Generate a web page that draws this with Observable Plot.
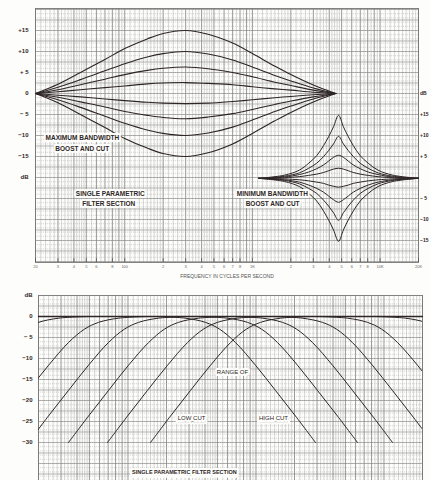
<!DOCTYPE html>
<html><head><meta charset="utf-8">
<script src="https://cdn.jsdelivr.net/npm/d3@7"></script>
<script src="https://cdn.jsdelivr.net/npm/@observablehq/plot@0.6"></script>
<style>
html,body{margin:0;padding:0;background:#fdfdfb;width:430px;height:480px;overflow:hidden}
#chart svg{display:block}
</style></head><body><div id="chart"></div>
<script>
// ---------- DATA ----------
// Top panel, maximum bandwidth boost & cut (dB vs Hz)
const maxFreq = [20,30,45,70,100,150,200,300,450,700,1000,1500,2000,3000,4500];
const maxBoost15 = [0,2.2,5.0,8.1,10.7,13.0,14.3,15,14.1,12.0,9.5,6.5,4.5,2.0,0];
const maxBoost10 = [0,1.5,3.3,5.4,7.1,8.7,9.5,10,9.4,8.0,6.3,4.3,3.0,1.3,0];
const maxBoost6  = [0,0.9,2.1,3.4,4.5,5.5,6.0,6.3,5.9,5.0,4.0,2.7,1.9,0.8,0];
const maxBoost3  = [0,0.4,0.9,1.4,1.8,2.3,2.5,2.6,2.4,2.1,1.6,1.1,0.8,0.3,0];
const maxCut2    = [0,-0.4,-0.8,-1.3,-1.7,-2.1,-2.3,-2.4,-2.3,-1.9,-1.5,-1.0,-0.7,-0.3,0];
const maxCut6    = [0,-0.9,-2.0,-3.2,-4.3,-5.2,-5.7,-6,-5.6,-4.8,-3.8,-2.6,-1.8,-0.8,0];
const maxCut10   = [0,-1.5,-3.3,-5.4,-7.1,-8.7,-9.5,-10,-9.4,-8.0,-6.3,-4.3,-3.0,-1.3,0];
const maxCut15   = [0,-2.2,-5.0,-8.1,-10.7,-13.0,-14.3,-15,-14.1,-12.0,-9.5,-6.5,-4.5,-2.0,0];

// Top panel, minimum bandwidth boost & cut (right-hand dB scale)
const minFreq = [1120,1780,2330,2760,3190,3610,3950,4320,4730,5160,5640,6170,6990,8070,9640,12600,20000];
const minBoost15 = [0,0.75,1.95,3.6,5.4,7.8,9.9,12.3,15,12.3,9.9,7.8,5.4,3.6,1.95,0.75,0];
const minBoost10 = [0,0.5,1.3,2.4,3.6,5.2,6.6,8.2,10,8.2,6.6,5.2,3.6,2.4,1.3,0.5,0];
const minBoost5  = [0,0.3,0.9,1.5,2.3,3.2,4.1,5.0,5.5,5.0,4.1,3.2,2.3,1.5,0.9,0.3,0];
const minBoost2  = [0,0.15,0.4,0.7,1.0,1.4,1.8,2.2,2.4,2.2,1.8,1.4,1.0,0.7,0.4,0.15,0];
const minCut2    = [0,-0.13,-0.35,-0.6,-0.9,-1.2,-1.6,-1.9,-2.1,-1.9,-1.6,-1.2,-0.9,-0.6,-0.35,-0.13,0];
const minCut6    = [0,-0.35,-0.9,-1.6,-2.4,-3.3,-4.2,-5.1,-5.7,-5.1,-4.2,-3.3,-2.4,-1.6,-0.9,-0.35,0];
const minCut10   = [0,-0.5,-1.3,-2.4,-3.6,-5.2,-6.6,-8.2,-10,-8.2,-6.6,-5.2,-3.6,-2.4,-1.3,-0.5,0];
const minCut15   = [0,-0.75,-1.95,-3.6,-5.4,-7.8,-9.9,-12.3,-15,-12.3,-9.9,-7.8,-5.4,-3.6,-1.95,-0.75,0];

// Bottom panel, low cut / high cut (dB values along each curve)
const cutDb = [-30,-23.7,-17.6,-11.6,-6.2,-3.0,-1.4,-0.4,0];
const lowCut1  = [2.77,3.97,5.69,8.15,11.7,15.6,20.0,28.8,49.3];
const lowCut2  = [8.14,11.7,16.7,24.0,34.3,45.8,58.9,84.5,145];
const lowCut3  = [16.7,23.9,34.3,49.2,70.4,93.9,121,173,297];
const lowCut4  = [34.3,49.2,70.5,101,145,193,248,356,610];
const lowCut5  = [69.2,99.2,142,204,292,389,500,718,1230];
const lowCut6  = [150,215,308,442,633,843,1085,1557,2667];
const highCut1 = [2917,2036,1420,991,692,519,403,281,164];
const highCut2 = [6210,4334,3023,2109,1473,1104,859,598,349];
const highCut3 = [11660,8137,5677,3961,2765,2074,1613,1123,656];
const highCut4 = [23900,16680,11640,8118,5668,4250,3306,2303,1344];
const highCut5 = [53800,37540,26190,18270,12760,9568,7441,5183,3026];
const highCut6 = [152800,106600,74400,51900,36230,27170,21130,14720,8594];
const flatFreq = [20,20000];
const flatDb = [0,0];

// Tick labels
const xTicks = [20,30,40,50,60,80,100,200,300,400,500,600,700,800,1000,2000,3000,4000,5000,6000,7000,8000,10000,20000];
const xTickLabels = ["20","3","4","5","6","8","100","2","3","4","5","6","7","8","1K","2","3","4","5","6","7","8","10K","20K"];
const topLeftTicks = [15,10,5,0,-5,-10,-15,-20];
const topLeftLabels = ["+15","+10","+ 5","0","\u2212 5","\u221210","\u221215","dB"];
const topRightTicks = [0,-5,-10,-15,-25,-30,-35];
const topRightLabels = ["dB","+15","+10","+ 5","\u2212 5","\u221210","\u221215"];
const botLeftTicks = [5,0,-5,-10,-15,-20,-25,-30];
const botLeftLabels = ["dB","0","\u2212 5","\u221210","\u221215","\u221220","\u221225","\u221230"];

// Graph paper rulings
const decades = [10,100,1000,10000];
const majorMult = [1,2,3,4,5,6,7,8,9];
const minorMult = [1.1,1.2,1.3,1.4,1.5,1.6,1.7,1.8,1.9,2.2,2.4,2.6,2.8,3.2,3.4,3.6,3.8,4.2,4.4,4.6,4.8,5.5,6.5,7.5,8.5,9.5];

// ---------- BUILD ----------
const inRange = f => f >= 20 && f <= 20000;
const majorFreqs = decades.flatMap(d => majorMult.map(m => m*d)).filter(inRange);
const minorFreqs = decades.flatMap(d => minorMult.map(m => m*d)).filter(inRange);

const MIN_OFFSET = -20.2; // right-hand scale zero sits on the left scale's -20.2 dB
const rows = (freqs, series) => series.flatMap(([id, vals]) => vals.map((db,i)=>({id, f: freqs[i], db})));
const maxRows = rows(maxFreq, [["b15",maxBoost15],["b10",maxBoost10],["b6",maxBoost6],["b3",maxBoost3],["c2",maxCut2],["c6",maxCut6],["c10",maxCut10],["c15",maxCut15]]);
const minRows = rows(minFreq, [["b15",minBoost15],["b10",minBoost10],["b5",minBoost5],["b2",minBoost2],["c2",minCut2],["c6",minCut6],["c10",minCut10],["c15",minCut15]]);
const cutRows = [["l1",lowCut1],["l2",lowCut2],["l3",lowCut3],["l4",lowCut4],["l5",lowCut5],["l6",lowCut6],
                 ["h1",highCut1],["h2",highCut2],["h3",highCut3],["h4",highCut4],["h5",highCut5],["h6",highCut6]]
  .flatMap(([id, fs]) => fs.map((f,i)=>({id, f, db: cutDb[i]})));
const flatRows = flatFreq.map((f,i)=>({id:"flat", f, db: flatDb[i]}));

const INK = "#2e2626";
const FONT = "'Liberation Sans', Arial, sans-serif";
const PAPER = "#fdfdfb";
const lab = (map) => d => map.get(d);
const mapOf = (a,b) => new Map(a.map((v,i)=>[v,b[i]]));

const paper = (dbMin, dbMax) => [
  Plot.ruleX(minorFreqs, {stroke:"#9c9c9c", strokeWidth:0.4}),
  Plot.ruleX(majorFreqs, {stroke:"#6f6f6f", strokeWidth:0.7}),
  Plot.ruleY(d3.range(Math.ceil(dbMin), dbMax, 1), {stroke:"#a6a6a6", strokeWidth:0.4, strokeDasharray:"1.2,0.8"}),
  Plot.ruleY(d3.range(Math.ceil(dbMin/2.5)*2.5, dbMax, 2.5), {stroke:"#858585", strokeWidth:0.6}),
  Plot.frame({stroke:"#777", strokeWidth:0.9})
];

const boxText = (txt, x, y, o={}) => Plot.text([txt], {x: () => x, y: () => y, text: d=>d,
  fontSize: 6.5, fontWeight: "bold", fill: INK, stroke: PAPER, strokeWidth: 4, paintOrder: "stroke", ...o});

const topPlot = Plot.plot({
  width: 430, height: 290,
  marginTop: 8, marginBottom: 28, marginLeft: 35, marginRight: 12,
  x: {type: "log", domain: [20, 20000], axis: null},
  y: {domain: [-40.24, 20.24]},
  style: {background: "transparent", fontFamily: FONT, color: INK, overflow: "visible"},
  marks: [
    ...paper(-40.24, 20.24),
    Plot.line(maxRows, {x: "f", y: "db", z: "id", curve: "catmull-rom", stroke: INK, strokeWidth: 1.1}),
    Plot.line(minRows, {x: "f", y: d => d.db + MIN_OFFSET, z: "id", curve: "catmull-rom", stroke: INK, strokeWidth: 1.0}),
    boxText("MAXIMUM BANDWIDTH", 24, -10.5, {textAnchor: "start"}),
    boxText("BOOST AND CUT", 28.6, -13.1, {textAnchor: "start"}),
    boxText("SINGLE PARAMETRIC", 77, -23.8),
    boxText("FILTER SECTION", 75, -26.2),
    boxText("MINIMUM BANDWIDTH", 1432, -23.8),
    boxText("BOOST AND CUT", 1440, -26.4),
    Plot.axisY({anchor: "left", ticks: topLeftTicks, tickFormat: lab(mapOf(topLeftTicks, topLeftLabels)), tickSize: 0, tickPadding: 7, fontSize: 6, fontWeight: "bold", label: null}),
    Plot.axisY({anchor: "right", ticks: topRightTicks, tickFormat: lab(mapOf(topRightTicks, topRightLabels)), tickSize: 0, tickPadding: 1.5, fontSize: 5, fontWeight: "bold", label: null}),
    Plot.ruleX(xTicks, {x: d => d, y1: -40.24, y2: -39.3, stroke: "#555", strokeWidth: 0.8}),
    Plot.text(xTicks, {x: d => d, frameAnchor: "bottom", dy: 5, text: lab(mapOf(xTicks, xTickLabels)), fontSize: 4, fill: "#666"}),
    Plot.text(["FREQUENCY IN CYCLES PER SECOND"], {frameAnchor: "bottom", dy: 15, fontSize: 5, fill: "#555"})
  ]
});

const botPlot = Plot.plot({
  width: 430, height: 200,
  marginTop: 5, marginBottom: 0, marginLeft: 38, marginRight: 8,
  x: {type: "log", domain: [20, 20000], axis: null},
  y: {domain: [-41.43, 5]},
  style: {background: "transparent", fontFamily: FONT, color: INK, overflow: "visible"},
  marks: [
    ...paper(-41.43, 5),
    Plot.line(flatRows, {x: "f", y: "db", z: "id", stroke: INK, strokeWidth: 1.3}),
    Plot.line(cutRows, {x: "f", y: "db", z: "id", curve: "catmull-rom", stroke: INK, strokeWidth: 1.0, clip: true}),
    boxText("RANGE OF", 656, -13.3, {fontWeight: "normal", fontSize: 6}),
    boxText("LOW CUT", 314, -24.3, {fontWeight: "normal", fontSize: 6}),
    boxText("HIGH CUT", 1370, -24.3, {fontWeight: "normal", fontSize: 6}),
    boxText("SINGLE PARAMETRIC FILTER SECTION", 276, -37.1, {fontSize: 5.5}),
    Plot.axisY({anchor: "left", ticks: botLeftTicks, tickFormat: lab(mapOf(botLeftTicks, botLeftLabels)), tickSize: 0, tickPadding: 6, fontSize: 6, fontWeight: "bold", label: null})
  ]
});

// underline the section caption and the cut labels, as on the original
d3.select(botPlot).selectAll("text")
  .filter(function(){ return ["SINGLE PARAMETRIC FILTER SECTION","LOW CUT","HIGH CUT"].includes(this.textContent); })
  .attr("text-decoration", "underline");

const root = document.getElementById("chart");
root.append(topPlot, botPlot);
</script>
</body></html>
